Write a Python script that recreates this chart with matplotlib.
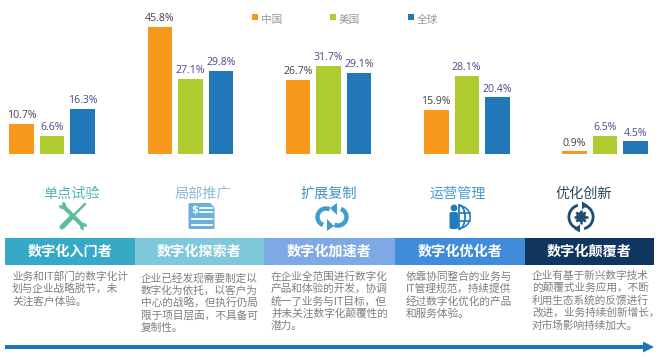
import numpy as np
import matplotlib
matplotlib.use('Agg')
import matplotlib.pyplot as plt
from matplotlib.patches import Rectangle, Circle, Wedge, Polygon, FancyBboxPatch, Arc

plt.rcParams['font.family'] = ['Noto Sans CJK SC', 'DejaVu Sans']

# datos
china = [10.7, 45.8, 26.7, 15.9, 0.9]
usa = [6.6, 27.1, 31.7, 28.1, 6.5]
mundo = [16.3, 29.8, 29.1, 20.4, 4.5]
series_nombres = ['中国', '美国', '全球']
etapas = ['单点试验', '局部推广', '扩展复制', '运营管理', '优化创新']
roles = ['数字化入门者', '数字化探索者', '数字化加速者', '数字化优化者', '数字化颠覆者']
textos = [
    ['业务和IT部门的数字化计', '划与企业战略脱节，未', '关注客户体验。'],
    ['企业已经发现需要制定以', '数字化为依托，以客户为', '中心的战略，但执行仍局', '限于项目层面，不具备可', '复制性。'],
    ['在企业全范围进行数字化', '产品和体验的开发，协调', '统一了业务与IT目标，但', '并未关注数字化颠覆性的', '潜力。'],
    ['依靠协同整合的业务与', 'IT管理规范，持续提供', '经过数字化优化的产品', '和服务体验。'],
    ['企业有基于新兴数字技术', '的颠覆式业务应用，不断', '利用生态系统的反馈进行', '改进，业务持续创新增长，', '对市场影响持续加大。'],
]

NARANJA = '#F7981D'
VERDE = '#AECB2F'
AZUL = '#2277B8'
colores = [NARANJA, VERDE, AZUL]
colores_etapa = ['#52B8B4', '#8DBBD9', '#3E93C6', '#4C9BD3', '#28485F']
colores_rol = ['#36A9C7', '#7FC8DC', '#7FA9E4', '#408BDA', '#10355F']
x_rol = [5, 135, 264, 395, 525, 654]
x_etapa = [71, 203, 329, 458, 584]
x_texto = [12, 141, 271, 406, 532]
y_texto = [276.5, 278, 276.5, 276.5, 275.5]

fig = plt.figure(figsize=(6.6, 3.57), dpi=100, facecolor='white')

# barras: un eje arriba, 2.78 px por cada punto porcentual
W, H = 660, 357
base = 154
ax = fig.add_axes([0, 1 - base / H, 1, base / H])
paso = 138.25
ax.set_xlim(-52 / paso, (W - 52) / paso)
ax.set_ylim(0, base / 2.78)
ax.axis('off')
x = np.arange(5)
for k, (vals, col) in enumerate(zip([china, usa, mundo], colores)):
    pos = x + (k - 1) * 30.5 / paso
    ax.bar(pos, vals, width=24.5 / paso, color=col)
    for p, v in zip(pos, vals):
        ax.text(p, v + 1.0, f'{v}%', ha='center', va='bottom', fontsize=7.6,
                family='Open Sans', color='#444444' if k == 0 else '#4B4A8C')

# el resto en coordenadas de pixel
ov = fig.add_axes([0, 0, 1, 1], facecolor='none')
ov.set_xlim(0, W)
ov.set_ylim(H, 0)
ov.axis('off')

# leyenda
for xc, col, nom in zip([252, 330, 408], colores, series_nombres):
    ov.add_patch(Rectangle((xc, 13.5), 6, 6, color=col, lw=0))
    ov.text(xc + 9, 20, nom, fontsize=7.7, color='#999999', va='center')

for i in range(5):
    ov.text(x_etapa[i], 193.5, etapas[i], fontsize=10.2, color=colores_etapa[i], ha='center', va='center')
    ov.add_patch(Rectangle((x_rol[i], 238), x_rol[i + 1] - x_rol[i], 26.7, color=colores_rol[i], lw=0))
    ov.text((x_rol[i] + x_rol[i + 1]) / 2, 252, roles[i], fontsize=10.2, fontweight='bold', color='white', ha='center', va='center')
    for j, linea in enumerate(textos[i]):
        ov.text(x_texto[i], y_texto[i] + j * 12.45, linea, fontsize=7.7, color='#7F7F7F', va='center')


# iconos
def herramientas(cx, cy, col):
    # destornillador
    ov.plot([cx - 11, cx - 1], [cy + 11, cy + 1], color=col, lw=3.6, solid_capstyle='round')
    ov.plot([cx - 1, cx + 12], [cy + 1, cy - 12], color=col, lw=1.8, solid_capstyle='round')
    # llave
    ov.plot([cx - 10, cx + 10], [cy - 10, cy + 10], color=col, lw=3.0, solid_capstyle='butt')
    ov.add_patch(Circle((cx - 10.5, cy - 10.5), 3.6, color=col, lw=0))
    ov.add_patch(Circle((cx + 10.5, cy + 10.5), 3.6, color=col, lw=0))
    ov.add_patch(Circle((cx - 12.5, cy - 12.5), 2.0, color='white', lw=0))
    ov.add_patch(Circle((cx + 12.5, cy + 12.5), 2.0, color='white', lw=0))


def documento(cx, cy, col):
    ov.add_patch(FancyBboxPatch((cx - 13, cy - 13), 26, 26, boxstyle='round,pad=0,rounding_size=1.5', color=col, lw=0))
    ov.add_patch(Polygon([[cx + 7, cy - 14], [cx + 14, cy - 14], [cx + 14, cy - 7]], color='white', lw=0))
    ov.text(cx - 7, cy - 6, '$', fontsize=7, fontweight='bold', color='white', ha='center', va='center', family='DejaVu Sans', parse_math=False)
    for yy, xi in [(-8, -2), (-4, -2), (3, -10), (9, -10)]:
        ov.plot([cx + xi, cx + 10], [cy + yy, cy + yy], color='white', lw=1.3)


def refresco(cx, cy, col):
    # dos flechas que se persiguen
    ov.add_patch(Arc((cx - 6, cy), 17, 17, theta1=110, theta2=295, color=col, lw=3.2))
    ov.add_patch(Arc((cx + 6, cy), 17, 17, theta1=-70, theta2=115, color=col, lw=3.2))
    ov.add_patch(Polygon([[cx - 5, cy + 2], [cx + 2, cy + 9], [cx - 5, cy + 14]], color=col, lw=0))
    ov.add_patch(Polygon([[cx + 5, cy - 2], [cx - 2, cy - 9], [cx + 5, cy - 14]], color=col, lw=0))


def persona_globo(cx, cy, col):
    ov.add_patch(Circle((cx - 6, cy - 9), 3.4, color=col, lw=0))
    ov.add_patch(FancyBboxPatch((cx - 10.5, cy - 5), 8.5, 17, boxstyle='round,pad=0,rounding_size=2', color=col, lw=0))
    ov.add_patch(Wedge((cx - 1, cy), 12, -90, 90, width=1.6, color=col, lw=0))
    ov.add_patch(Arc((cx - 1, cy), 12, 24, theta1=-90, theta2=90, color=col, lw=1.3))
    ov.plot([cx - 1, cx - 1], [cy - 12, cy + 12], color=col, lw=1.3)
    ov.plot([cx, cx + 10], [cy - 4, cy - 4], color=col, lw=1.2)
    ov.plot([cx, cx + 10], [cy + 4, cy + 4], color=col, lw=1.2)


def engrane(cx, cy, col):
    ov.add_patch(Wedge((cx, cy), 13.5, 100, 255, width=2.8, color=col, lw=0))
    ov.add_patch(Wedge((cx, cy), 13.5, -80, 75, width=2.8, color=col, lw=0))
    ov.add_patch(Polygon([[cx + 1, cy - 15.5], [cx + 7, cy - 12], [cx + 1, cy - 7.5]], color=col, lw=0))
    ov.add_patch(Polygon([[cx - 1, cy + 15.5], [cx - 7, cy + 12], [cx - 1, cy + 7.5]], color=col, lw=0))
    for a in np.deg2rad(np.arange(0, 180, 45)):
        dx, dy = 6.6 * np.cos(a), 6.6 * np.sin(a)
        ov.plot([cx - dx, cx + dx], [cy - dy, cy + dy], color=col, lw=1.8, solid_capstyle='butt')
    ov.add_patch(Circle((cx, cy), 5.0, color=col, lw=0))
    ov.add_patch(Circle((cx, cy), 2.2, color='white', lw=0))


herramientas(73, 216, '#5DBB9E')
documento(201.5, 216, '#6BB0DC')
refresco(332, 217, '#3E9DCB')
persona_globo(460, 217, '#1F7CBE')
engrane(581, 217, '#1D4E73')

# flecha inferior
ov.add_patch(Rectangle((5, 345), 640, 3.6, color='#1B75BB', lw=0))
ov.add_patch(Polygon([[643, 341.5], [654, 347], [643, 352.5]], color='#1B75BB', lw=0))

plt.savefig('out.png', dpi=100)
